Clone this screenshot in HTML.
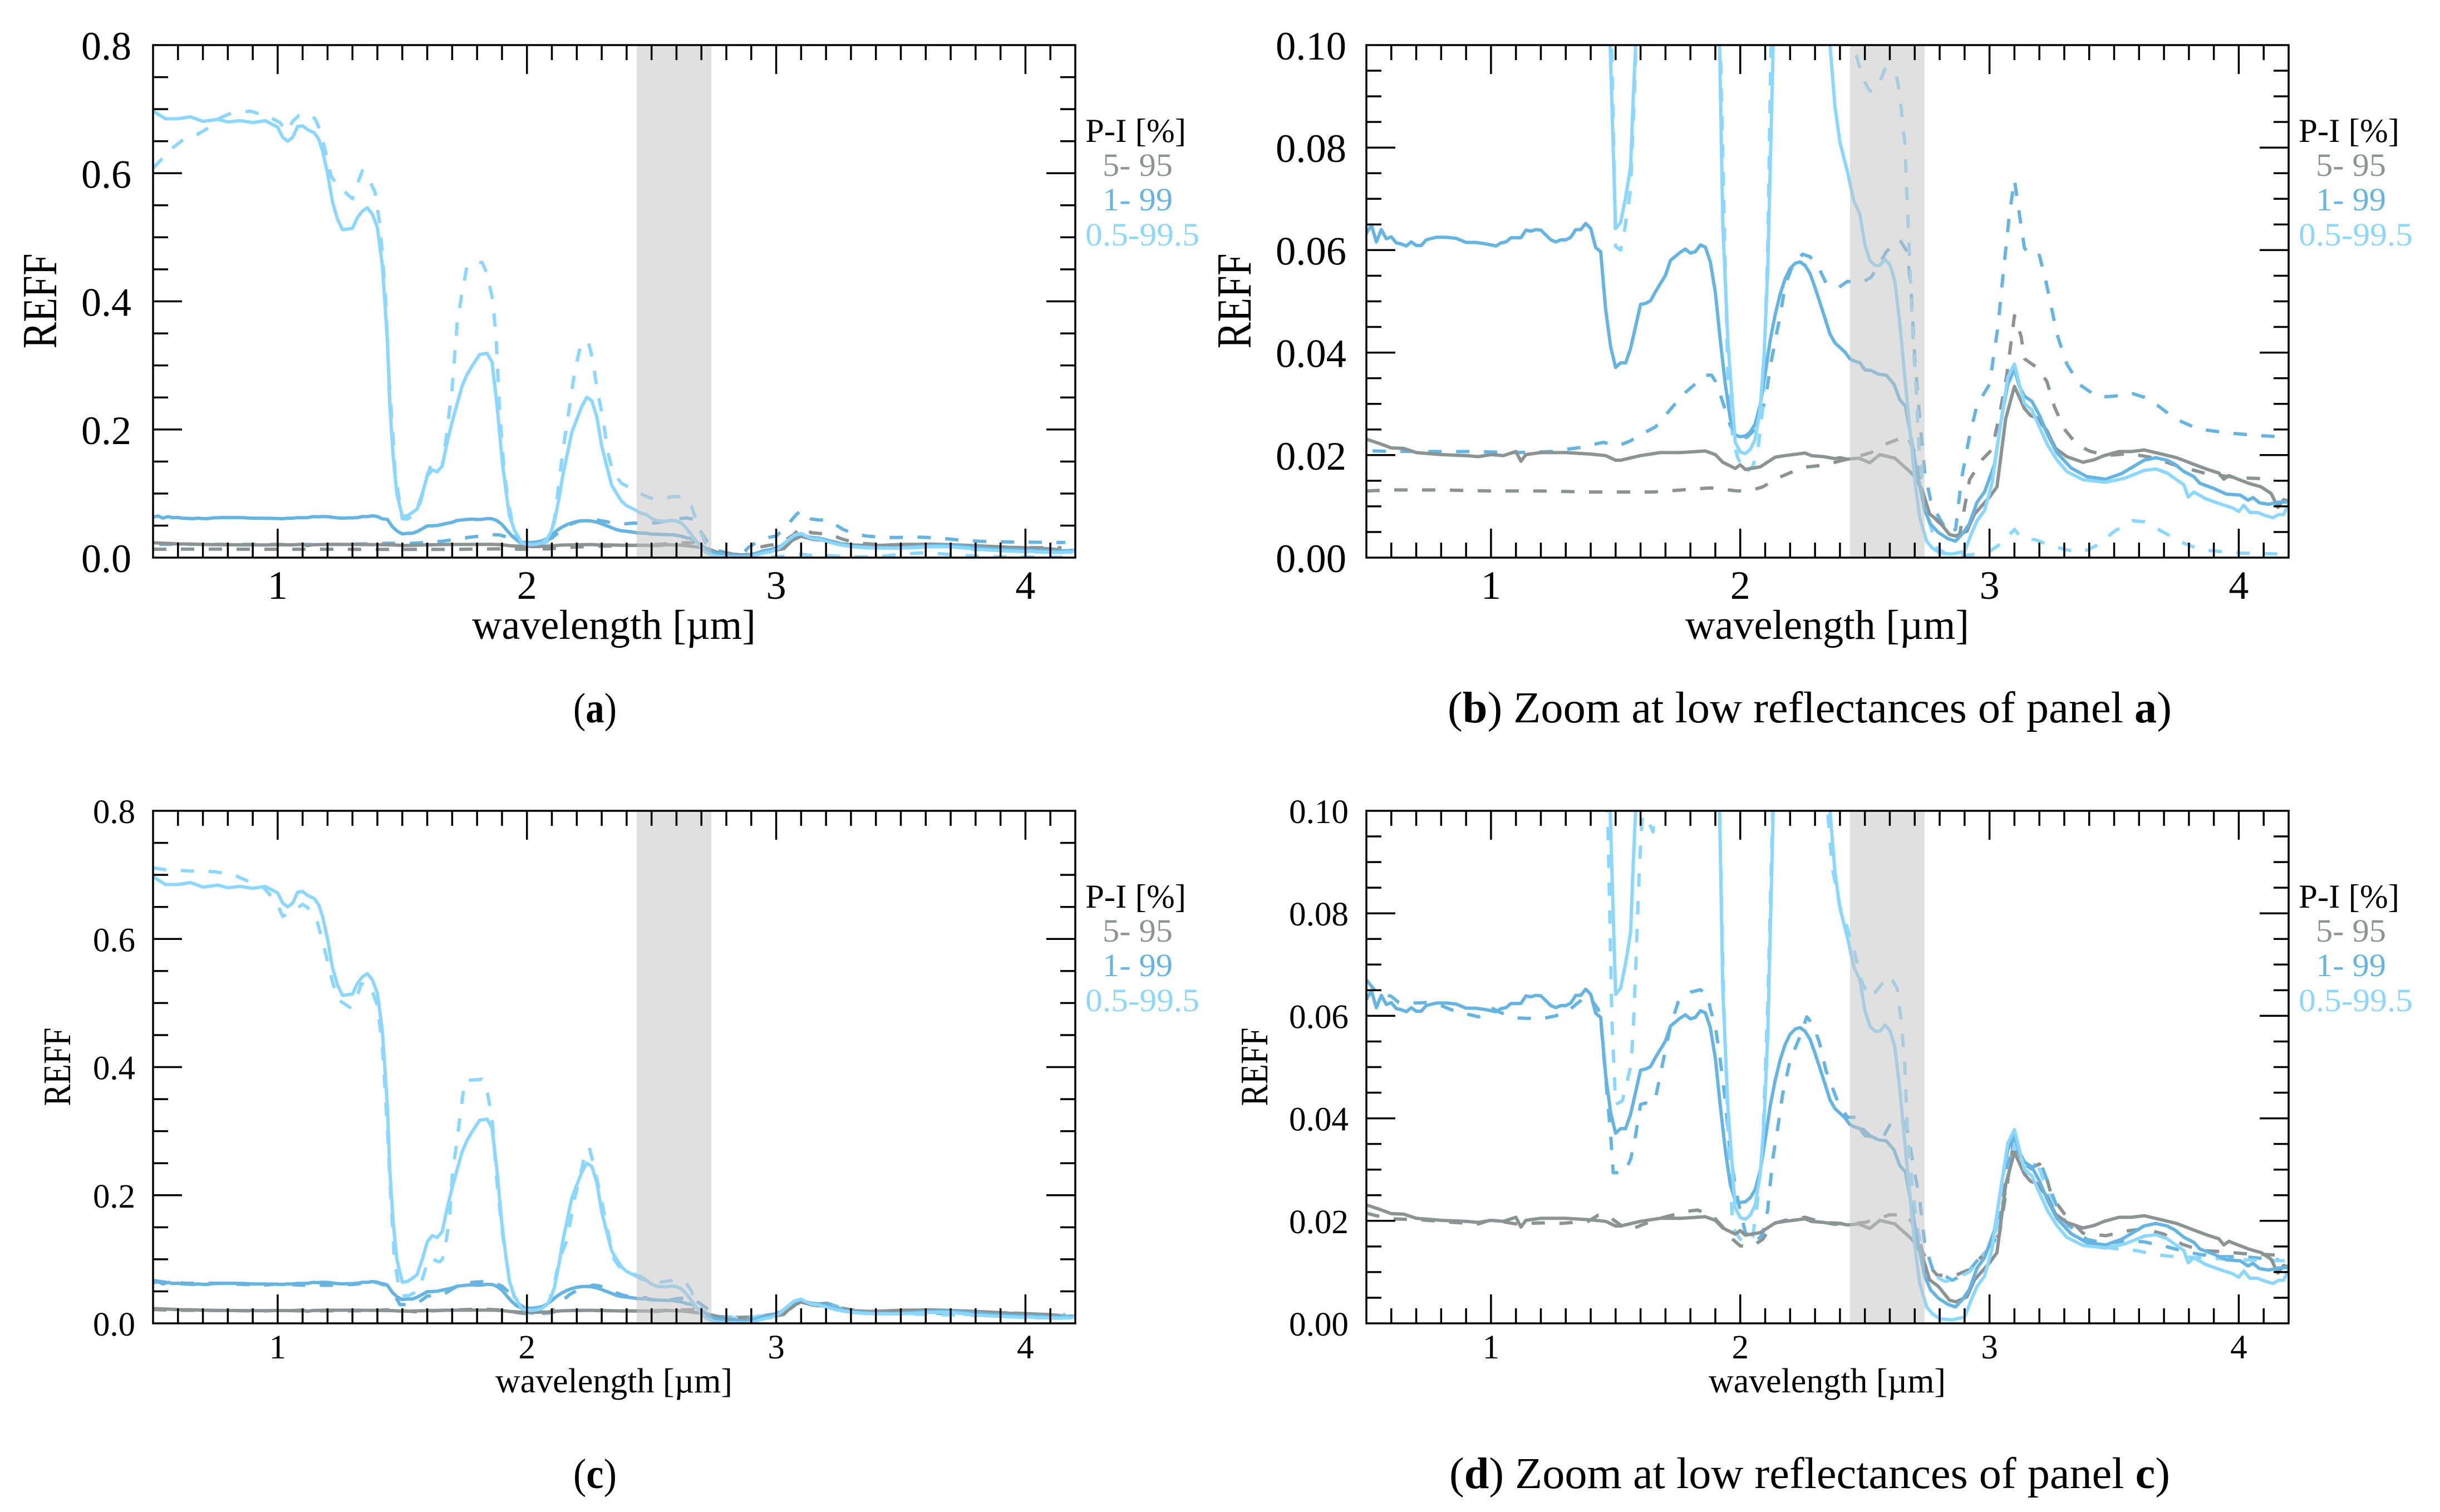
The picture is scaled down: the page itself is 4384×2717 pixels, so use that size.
<!DOCTYPE html>
<html lang="en">
<head>
<meta charset="utf-8">
<title>REFF spectra percentile panels</title>
<style>
html,body{margin:0;padding:0;background:#fff;}
svg{display:block;}
text{font-family:"Liberation Serif",serif;}
</style>
</head>
<body>
<svg id="figure" xmlns="http://www.w3.org/2000/svg" width="4384" height="2717" viewBox="0 0 4384 2717">
<rect x="0" y="0" width="4384" height="2717" fill="#fff"/>
<text x="1030" y="1298" font-size="76" textLength="78" lengthAdjust="spacingAndGlyphs">(<tspan font-weight="bold">a</tspan>)</text>
<text x="2601" y="1298" font-size="79" textLength="1301" lengthAdjust="spacingAndGlyphs">(<tspan font-weight="bold">b</tspan>) Zoom at low reflectances of panel <tspan font-weight="bold">a</tspan>)</text>
<text x="1030" y="2674" font-size="76" textLength="78" lengthAdjust="spacingAndGlyphs">(<tspan font-weight="bold">c</tspan>)</text>
<text x="2604" y="2674" font-size="79" textLength="1295" lengthAdjust="spacingAndGlyphs">(<tspan font-weight="bold">d</tspan>) Zoom at low reflectances of panel <tspan font-weight="bold">c</tspan>)</text>
</svg>
<script>
// ---- chart data (wavelength in um, REFF unitless) ----
const xTickLabels = ['1','2','3','4'];
const yTickLabelsFull = ['0.0','0.2','0.4','0.6','0.8'];
const yTickLabelsZoom = ['0.00','0.02','0.04','0.06','0.08','0.10'];
const excludedBand = [2.44, 2.74];
const legendTitle = 'P-I [%]';
const legendLabels = ['5- 95','1- 99','0.5-99.5'];

// solid curves (all panels)
const graySolidX = [.5,.55,.6,.65,.7,.8,.9,.95,1,1.05,1.1,1.12,1.14,1.2,1.3,1.4,1.46,1.5,1.52,1.6,1.68,1.76,1.86,1.9,1.93,1.98,2,2.02,2.08,2.14,2.18,2.26,2.285,2.335,2.38,2.4,2.43,2.476,2.52,2.56,2.62,2.68,2.7,2.73,2.76,2.795,2.84,2.865,2.91,2.94,3,3.03,3.065,3.1,3.14,3.165,3.19,3.23,3.265,3.31,3.375,3.42,3.46,3.52,3.57,3.62,3.7,3.75,3.82,3.875,3.92,3.94,3.96,4.04,4.09,4.13,4.157,4.18,4.2];
const graySolidY = [.0231,.0223,.0214,.0213,.0205,.0201,.0199,.0197,.0201,.0199,.0207,.0188,.0201,.0205,.0205,.0202,.0199,.019,.019,.0199,.0205,.0205,.0208,.0201,.0186,.0174,.0181,.0172,.0177,.0196,.0199,.0204,.0199,.0197,.0193,.0195,.0192,.0194,.0185,.0201,.0194,.0168,.0158,.0132,.0085,.0072,.0045,.0042,.0052,.0085,.0118,.0138,.0271,.0334,.0291,.0277,.0273,.0248,.0213,.0197,.0186,.0191,.0199,.0207,.0207,.021,.0201,.0195,.0182,.0172,.0165,.0153,.016,.0145,.0138,.0125,.0098,.0113,.011];

const midSolidX = [.5,.52,.54,.56,.58,.6,.62,.64,.66,.68,.7,.72,.74,.78,.82,.86,.9,.94,.98,1.02,1.04,1.06,1.08,1.12,1.14,1.16,1.18,1.2,1.24,1.26,1.28,1.3,1.32,1.34,1.36,1.38,1.4,1.42,1.44,1.46,1.48,1.5,1.52,1.54,1.56,1.58,1.6,1.62,1.64,1.66,1.7,1.72,1.76,1.78,1.8,1.82,1.84,1.86,1.88,1.9,1.92,1.94,1.96,1.98,2,2.02,2.04,2.06,2.08,2.1,2.12,2.14,2.16,2.18,2.2,2.22,2.24,2.26,2.28,2.3,2.32,2.34,2.36,2.38,2.4,2.42,2.44,2.455,2.48,2.5,2.525,2.555,2.586,2.617,2.64,2.663,2.687,2.71,2.74,2.764,2.795,2.833,2.864,2.895,2.918,2.95,2.98,3.02,3.05,3.073,3.1,3.12,3.14,3.17,3.2,3.235,3.27,3.327,3.39,3.466,3.53,3.62,3.667,3.713,3.744,3.78,3.82,3.844,3.9,3.95,4.006,4.037,4.057,4.083,4.12,4.16,4.2];
const midSolidY = [.0632,.0649,.0616,.064,.0622,.0626,.0614,.0612,.0608,.0616,.0609,.0609,.062,.0625,.0625,.0623,.0615,.0615,.0612,.0608,.0614,.0616,.0624,.0624,.0639,.0637,.064,.0639,.062,.0616,.062,.062,.0625,.064,.064,.0652,.0642,.0605,.0597,.0484,.0411,.0371,.038,.038,.0408,.0451,.0494,.0496,.0501,.0519,.0551,.058,.0596,.0602,.0594,.0597,.061,.0606,.0577,.0517,.0424,.0338,.0271,.0239,.0236,.0237,.0245,.0261,.0298,.0358,.0424,.0474,.0514,.0544,.0564,.0574,.0577,.057,.0554,.0527,.0497,.0467,.0436,.0419,.041,.0401,.0388,.0384,.038,.0366,.0365,.0358,.0356,.0338,.0308,.0295,.0228,.0165,.0092,.0065,.0049,.0037,.0032,.0049,.0065,.0108,.0128,.0182,.0278,.0338,.0368,.0334,.0315,.0305,.0278,.0238,.0205,.0175,.0158,.0153,.0164,.019,.0195,.019,.0182,.0168,.0158,.0145,.0135,.0124,.0122,.0112,.0117,.0107,.0104,.0108,.0109];

const lightSolidX = [.5,.55,.6,.65,.7,.76,.8,.85,.9,.95,1,1.02,1.04,1.06,1.08,1.1,1.12,1.147,1.165,1.18,1.2,1.22,1.24,1.26,1.3,1.32,1.34,1.36,1.38,1.4,1.42,1.44,1.45,1.463,1.478,1.49,1.5,1.52,1.54,1.56,1.57,1.58,1.6,1.62,1.64,1.66,1.68,1.7,1.74,1.76,1.78,1.81,1.84,1.86,1.88,1.9,1.917,1.93,1.95,1.97,1.98,2,2.02,2.04,2.06,2.08,2.095,2.11,2.12,2.13,2.143,2.18,2.22,2.24,2.26,2.28,2.3,2.32,2.34,2.36,2.38,2.4,2.43,2.455,2.48,2.5,2.52,2.54,2.56,2.58,2.6,2.62,2.64,2.663,2.687,2.7,2.72,2.748,2.77,2.8,2.85,2.9,2.926,2.95,2.98,3.01,3.04,3.073,3.1,3.12,3.14,3.17,3.2,3.235,3.27,3.31,3.375,3.466,3.543,3.62,3.667,3.713,3.75,3.78,3.797,3.82,3.867,3.93,3.975,4,4.02,4.045,4.076,4.107,4.137,4.16,4.18,4.2];
const lightSolidY = [.697,.685,.685,.688,.681,.684,.68,.682,.679,.682,.672,.656,.65,.656,.673,.674,.668,.663,.653,.635,.6,.555,.528,.512,.514,.531,.541,.546,.536,.515,.456,.339,.238,.159,.1,.08,.0642,.0654,.0703,.0763,.089,.1,.127,.137,.134,.143,.18,.212,.268,.286,.299,.317,.319,.305,.238,.153,.1,.065,.0424,.0291,.0225,.0206,.0203,.0211,.0231,.0291,.0391,.0557,.0757,.0956,.127,.196,.236,.25,.245,.22,.174,.143,.113,.1,.088,.081,.0753,.0697,.067,.061,.058,.057,.057,.0582,.0572,.054,.0457,.0338,.0218,.0152,.0078,.0032,.0019,.0009,.0007,.0012,.0045,.0072,.0092,.0145,.0245,.0351,.0378,.0338,.0301,.0288,.0255,.0218,.0191,.0168,.0152,.0147,.0155,.017,.0173,.0165,.0152,.0142,.0118,.0128,.0115,.0104,.0097,.009,.0102,.0088,.0088,.0082,.0078,.0084,.0084,.0105];

// dashed curves, panels a and b
const grayDashTopX = [.5,.6,.8,1,1.2,1.4,1.5,1.65,1.88,1.99,2.05,2.09,2.15,2.25,2.33,2.43,2.476,2.525,2.58,2.67,2.7,2.75,2.79,2.86,2.88,2.92,2.97,3.01,3.04,3.07,3.1,3.127,3.14,3.19,3.23,3.26,3.3,3.35,3.4,3.47,3.56,3.655,3.76,3.87,3.99,4.145];
const grayDashTopY = [.013,.0132,.0132,.013,.013,.0128,.0128,.0128,.0136,.013,.0132,.0138,.0155,.0176,.018,.0192,.0198,.0205,.0221,.0238,.0205,.0092,.0072,.0042,.0045,.0152,.0191,.0211,.0278,.0358,.0472,.0431,.0388,.0371,.0344,.0295,.0251,.0221,.0208,.0199,.0203,.0195,.0178,.0164,.0156,.0153];

const midDashTopX = [.525,.7,.92,1.1,1.24,1.36,1.45,1.51,1.56,1.62,1.66,1.77,1.86,1.885,1.9,1.92,1.94,1.96,1.99,2.03,2.06,2.08,2.1,2.12,2.14,2.16,2.18,2.21,2.25,2.28,2.32,2.345,2.395,2.43,2.49,2.525,2.555,2.586,2.64,2.67,2.687,2.7,2.72,2.74,2.764,2.79,2.833,2.864,2.887,2.92,2.95,3,3.034,3.057,3.08,3.1,3.12,3.14,3.17,3.2,3.227,3.25,3.27,3.31,3.36,3.435,3.5,3.574,3.62,3.68,3.744,3.837,3.96,4.083,4.16];
const midDashTopY = [.0208,.0207,.0207,.0205,.0207,.0215,.0225,.0218,.0228,.0245,.0255,.0318,.0356,.0356,.0344,.0318,.0288,.0258,.0228,.0236,.0251,.0278,.0305,.0371,.0424,.0471,.0531,.057,.0592,.0587,.056,.0535,.0527,.0539,.0537,.0547,.057,.0597,.062,.0597,.0511,.0391,.0271,.0165,.0112,.0085,.0049,.0055,.0152,.0238,.0298,.0338,.0451,.0564,.067,.0737,.067,.0604,.0587,.059,.0537,.0484,.0437,.0378,.0338,.0313,.0315,.032,.0313,.0295,.0271,.0251,.0243,.0238,.0236];

const lightDashTopX = [.5,.54,.58,.62,.68,.715,.76,.81,.89,.965,1.01,1.035,1.06,1.085,1.12,1.15,1.17,1.19,1.215,1.235,1.28,1.3,1.32,1.34,1.36,1.39,1.41,1.42,1.435,1.445,1.46,1.47,1.49,1.5,1.52,1.536,1.56,1.575,1.585,1.6,1.62,1.64,1.66,1.677,1.7,1.72,1.74,1.76,1.79,1.82,1.84,1.862,1.876,1.89,1.905,1.92,1.94,1.95,1.97,1.99,2.02,2.05,2.07,2.09,2.11,2.125,2.145,2.17,2.19,2.21,2.245,2.265,2.28,2.305,2.325,2.345,2.38,2.455,2.49,2.52,2.55,2.58,2.6,2.625,2.64,2.66,2.67,2.68,2.69,2.706,2.72,2.744,2.79,2.83,2.92,3,3.05,3.1,3.127,3.19,3.235,3.31,3.375,3.435,3.5,3.574,3.62,3.7,3.775,3.85,4,4.16];
const lightDashTopY = [.608,.624,.64,.652,.661,.669,.685,.693,.697,.688,.679,.665,.681,.69,.693,.685,.667,.637,.595,.584,.567,.56,.584,.604,.595,.571,.52,.472,.393,.286,.206,.137,.085,.0607,.06,.064,.072,.09,.105,.129,.149,.134,.143,.19,.265,.366,.414,.456,.459,.461,.443,.403,.345,.233,.153,.1,.0557,.0358,.0231,.0195,.0165,.0178,.0208,.0291,.0597,.105,.169,.233,.286,.323,.339,.307,.265,.217,.164,.132,.116,.1,.0936,.091,.0916,.0953,.0954,.0946,.0903,.081,.069,.0577,.0457,.0324,.0191,.0092,.0019,.0005,.0005,.0012,.0029,.0055,.0039,.0034,.0025,.0015,.0011,.0025,.0051,.0072,.007,.0049,.0029,.0015,.0009,.0007];

// dashed curves, panels c and d
const grayDashBottomX = [.5,.54,.6,.72,.85,.95,1,1.1,1.2,1.28,1.39,1.43,1.46,1.5,1.55,1.6,1.67,1.71,1.79,1.83,1.89,1.93,1.97,2,2.05,2.09,2.13,2.18,2.26,2.33,2.44,2.5,2.565,2.6,2.67,2.7,2.73,2.76,2.79,2.86,2.915,2.97,3,3.04,3.07,3.1,3.127,3.157,3.2,3.227,3.25,3.3,3.375,3.466,3.56,3.62,3.7,3.775,3.85,3.93,4.02,4.16];
const grayDashBottomY = [.0215,.021,.0204,.0202,.0197,.0194,.0202,.0194,.0196,.0195,.0199,.0211,.0212,.0199,.0181,.0191,.0204,.0209,.0219,.0221,.0209,.0188,.0164,.0151,.0151,.0164,.0194,.0201,.0207,.0197,.0194,.0197,.0206,.0212,.0211,.0188,.0141,.0111,.0094,.0093,.0104,.0131,.0148,.0174,.0267,.0364,.032,.0301,.0311,.0287,.0247,.0214,.0176,.0171,.0181,.0184,.0174,.0154,.0142,.014,.0136,.0133];

const midDashBottomX = [.5,.54,.6,.63,.7,.74,.8,.85,.95,1,1.04,1.1,1.2,1.26,1.31,1.35,1.39,1.43,1.44,1.46,1.48,1.49,1.535,1.56,1.58,1.6,1.62,1.64,1.66,1.68,1.72,1.75,1.8,1.84,1.87,1.88,1.9,1.92,1.94,1.96,1.99,2.02,2.06,2.09,2.11,2.13,2.15,2.17,2.2,2.24,2.267,2.292,2.318,2.344,2.39,2.43,2.476,2.49,2.525,2.57,2.6,2.65,2.67,2.7,2.72,2.74,2.77,2.85,2.91,2.97,3.02,3.05,3.07,3.1,3.127,3.17,3.2,3.235,3.265,3.31,3.39,3.466,3.56,3.62,3.7,3.775,3.85,3.93,4.02,4.16];
const midDashBottomY = [.067,.0646,.0638,.0626,.0625,.0626,.062,.061,.0598,.0616,.0606,.0596,.0594,.06,.061,.0626,.064,.0613,.0593,.048,.0367,.0294,.0294,.032,.0367,.0427,.043,.0427,.044,.0487,.058,.0626,.0646,.0651,.064,.0613,.058,.0513,.0434,.0327,.0241,.0178,.0158,.0174,.0221,.032,.038,.0447,.0513,.056,.0598,.0583,.0547,.0493,.0434,.0402,.0402,.038,.0364,.036,.0387,.0399,.0377,.0294,.0241,.0154,.0108,.0084,.0098,.0134,.0161,.0227,.0301,.0354,.0314,.0301,.032,.0274,.0234,.0194,.0164,.0156,.0161,.0159,.0151,.0141,.0134,.013,.013,.0124];

const lightDashBottomX = [.5,.55,.65,.75,.83,.87,.935,.965,1,1.02,1.06,1.085,1.1,1.12,1.157,1.18,1.2,1.22,1.24,1.29,1.32,1.335,1.37,1.4,1.42,1.44,1.455,1.468,1.485,1.5,1.527,1.56,1.57,1.58,1.595,1.61,1.625,1.64,1.65,1.66,1.67,1.69,1.7,1.72,1.75,1.82,1.84,1.86,1.88,1.9,1.917,1.933,1.953,1.97,2,2.02,2.05,2.07,2.09,2.11,2.13,2.16,2.19,2.21,2.23,2.25,2.27,2.29,2.33,2.35,2.37,2.4,2.417,2.44,2.455,2.48,2.5,2.525,2.57,2.6,2.63,2.645,2.66,2.67,2.69,2.71,2.74,2.77,2.82,2.86,2.92,2.97,3.015,3.06,3.1,3.127,3.17,3.2,3.23,3.27,3.32,3.4,3.5,3.59,3.667,3.744,3.85,4.006,4.19];
const lightDashBottomY = [.711,.708,.706,.705,.699,.692,.683,.671,.653,.635,.645,.65,.654,.649,.629,.597,.565,.533,.506,.493,.512,.53,.529,.496,.432,.304,.187,.1,.0593,.0427,.0434,.05,.0566,.0686,.0886,.102,.1,.097,.0959,.1,.113,.166,.23,.288,.379,.381,.363,.32,.219,.145,.1,.0633,.0354,.0187,.0164,.0156,.0168,.0241,.0354,.062,.1,.129,.193,.224,.259,.275,.243,.209,.134,.1,.0886,.0812,.0793,.0753,.0733,.0676,.0653,.0636,.0663,.0678,.0653,.0593,.0507,.038,.0267,.0187,.0114,.0095,.0082,.0085,.0101,.0128,.0161,.0247,.035,.0307,.0284,.0301,.0261,.0214,.0178,.0154,.0146,.0142,.0134,.013,.0128,.0124,.0122];

const curveColors = {gray:'#8b9495', mid:'#66b4e2', light:'#8cd7ff'};
</script>
<script>
const NS = 'http://www.w3.org/2000/svg';
const root = document.getElementById('figure');

const PANELS = [
  {id:'a', ox:0,    oy:0,    yLabels:yTickLabelsFull, yMax:0.8, minorStep:0.05,  majorEvery:4, dashes:'Top',
   tickFont:72, yTickLen:90,  yTickBase:26, xTickBase:1076, xTitleBase:1148, xTitleFont:75, xTitleLen:510,
   yTitleX:101, yTitleY:541, yTitleFont:88, yTitleLen:171, yLabelRight:236},
  {id:'b', ox:2180, oy:0,    yLabels:yTickLabelsZoom, yMax:0.1, minorStep:0.005, majorEvery:4, dashes:'Top',
   tickFont:72, yTickLen:127, yTickBase:26, xTickBase:1076, xTitleBase:1148, xTitleFont:75, xTitleLen:510,
   yTitleX:67,  yTitleY:541, yTitleFont:88, yTitleLen:171, yLabelRight:239},
  {id:'c', ox:0,    oy:1376, yLabels:yTickLabelsFull, yMax:0.8, minorStep:0.05,  majorEvery:4, dashes:'Bottom',
   tickFont:61, yTickLen:76,  yTickBase:22, xTickBase:1065, xTitleBase:1126, xTitleFont:62, xTitleLen:426,
   yTitleX:126, yTitleY:541, yTitleFont:70, yTitleLen:141, yLabelRight:243},
  {id:'d', ox:2180, oy:1376, yLabels:yTickLabelsZoom, yMax:0.1, minorStep:0.005, majorEvery:4, dashes:'Bottom',
   tickFont:61, yTickLen:107, yTickBase:22, xTickBase:1065, xTitleBase:1126, xTitleFont:62, xTitleLen:426,
   yTitleX:97,  yTitleY:541, yTitleFont:70, yTitleLen:141, yLabelRight:243}
];
const BOX = {left:275, right:1932, top:81, bottom:1002};
const X_MIN = 0.5, X_MAX = 4.2;
const SERIES_LAYOUT = [
  {key:'gray',  name:'gray',  label:0},
  {key:'mid',   name:'mid-blue', label:1},
  {key:'light', name:'light-blue', label:2}
];
const solidData = {
  gray:[graySolidX, graySolidY],
  mid:[midSolidX, midSolidY],
  light:[lightSolidX, lightSolidY]
};
const dashData = {
  Top:{gray:[grayDashTopX, grayDashTopY], mid:[midDashTopX, midDashTopY], light:[lightDashTopX, lightDashTopY]},
  Bottom:{gray:[grayDashBottomX, grayDashBottomY], mid:[midDashBottomX, midDashBottomY], light:[lightDashBottomX, lightDashBottomY]}
};

function svgEl(tag, parent, attrs) {
  const el = document.createElementNS(NS, tag);
  for (const k in attrs) el.setAttribute(k, attrs[k]);
  parent.appendChild(el);
  return el;
}

function drawPanel(p) {
  const L = BOX.left + p.ox, R = BOX.right + p.ox, T = BOX.top + p.oy, B = BOX.bottom + p.oy;
  const xScale = v => L + (v - X_MIN) / (X_MAX - X_MIN) * (R - L);
  const yScale = v => B - v / p.yMax * (B - T);

  const g = svgEl('g', root, {});
  
  

  const clip = svgEl('clipPath', g, {id:'clip-' + p.id});
  
  
  svgEl('rect', clip, {x:L, y:T, width:R - L, height:B - T});

  const plot = svgEl('g', g, {'clip-path':'url(#clip-' + p.id + ')'});
  
  

  // dashed first, then solid in legend order
  SERIES_LAYOUT.forEach(s => {
    const d = dashData[p.dashes][s.key];
    const pts = d[0].map((x, i) => xScale(x).toFixed(1) + ',' + yScale(d[1][i]).toFixed(1)).join(' ');
    const line = svgEl('polyline', plot, {points:pts, fill:'none', stroke:curveColors[s.key], 'stroke-width':6, 'stroke-linejoin':'round', 'stroke-dasharray':'24 26'});
    
    
  });
  SERIES_LAYOUT.forEach(s => {
    const d = solidData[s.key];
    const pts = d[0].map((x, i) => xScale(x).toFixed(1) + ',' + yScale(d[1][i]).toFixed(1)).join(' ');
    const line = svgEl('polyline', plot, {points:pts, fill:'none', stroke:curveColors[s.key], 'stroke-width':6, 'stroke-linejoin':'round'});
    
    
  });

  // shaded wavelength band
  const band = svgEl('rect', plot, {x:xScale(excludedBand[0]), y:T, width:xScale(excludedBand[1]) - xScale(excludedBand[0]), height:B - T, fill:'rgb(196,196,196)', 'fill-opacity':0.525});
  
  

  // ticks
  const ticks = svgEl('g', g, {stroke:'#000', 'stroke-width':3.5, fill:'none'});
  
  
  for (let i = 6; i <= 41; i++) {
    const x = xScale(i / 10);
    const len = i % 10 === 0 ? 52 : 27;
    svgEl('line', ticks, {x1:x, x2:x, y1:T, y2:T + len});
    svgEl('line', ticks, {x1:x, x2:x, y1:B, y2:B - len});
  }
  const nMinor = Math.round(p.yMax / p.minorStep);
  for (let i = 1; i < nMinor; i++) {
    const y = yScale(i * p.minorStep);
    const len = i % p.majorEvery === 0 ? 52 : 27;
    svgEl('line', ticks, {x1:L, x2:L + len, y1:y, y2:y});
    svgEl('line', ticks, {x1:R, x2:R - len, y1:y, y2:y});
  }

  // frame
  const frame = svgEl('rect', g, {x:L, y:T, width:R - L, height:B - T, fill:'none', stroke:'#000', 'stroke-width':3.5});
  
  

  // x tick labels
  xTickLabels.forEach(lbl => {
    const t = svgEl('text', g, {x:xScale(parseFloat(lbl)), y:p.xTickBase + p.oy, 'font-size':p.tickFont, 'text-anchor':'middle'});
    
    
    t.textContent = lbl;
  });
  // y tick labels
  p.yLabels.forEach(lbl => {
    const t = svgEl('text', g, {x:p.yLabelRight + p.ox - p.yTickLen, y:yScale(parseFloat(lbl)) + p.yTickBase, 'font-size':p.tickFont, textLength:p.yTickLen, lengthAdjust:'spacingAndGlyphs'});
    
    
    t.textContent = lbl;
  });

  // axis titles
  const xt = svgEl('text', g, {x:1103 + p.ox - p.xTitleLen / 2, y:p.xTitleBase + p.oy, 'font-size':p.xTitleFont, textLength:p.xTitleLen, lengthAdjust:'spacingAndGlyphs'});
  
  
  xt.textContent = 'wavelength [\u00b5m]';

  const yx = p.yTitleX + p.ox, yy = p.yTitleY + p.oy;
  const yt = svgEl('text', g, {x:yx - p.yTitleLen / 2, y:yy, 'font-size':p.yTitleFont, textLength:p.yTitleLen, lengthAdjust:'spacingAndGlyphs', transform:'rotate(-90 ' + yx + ' ' + yy + ')'});
  
  
  yt.textContent = 'REFF';

  // legend
  const lg = svgEl('g', g, {});
  
  
  const title = svgEl('text', lg, {x:1950 + p.ox, y:255 + p.oy, 'font-size':60, textLength:181, lengthAdjust:'spacingAndGlyphs', fill:'#000'});
  
  
  title.textContent = legendTitle;
  const rows = [
    {x:1981, y:316, w:126},
    {x:1981, y:378, w:126},
    {x:1950, y:441, w:205}
  ];
  SERIES_LAYOUT.forEach(s => {
    const r = rows[s.label];
    const t = svgEl('text', lg, {x:r.x + p.ox, y:r.y + p.oy, 'font-size':58, textLength:r.w, lengthAdjust:'spacingAndGlyphs', fill:curveColors[s.key]});
    
    
    t.textContent = legendLabels[s.label];
  });
}

PANELS.forEach(drawPanel);
</script>
</body>
</html>
